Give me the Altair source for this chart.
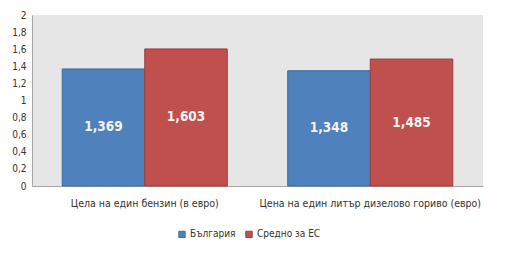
import altair as alt
import pandas as pd

categories = ["Цела на един бензин (в евро)", "Цена на един литър дизелово гориво (евро)"]
series = ["България", "Средно за ЕС"]
bulgaria = [1.369, 1.348]
eu_avg = [1.603, 1.485]
labels_bg = ["1,369", "1,348"]
labels_eu = ["1,603", "1,485"]
yticks = [0, 0.2, 0.4, 0.6, 0.8, 1, 1.2, 1.4, 1.6, 1.8, 2]

rows = []
for i, c in enumerate(categories):
    rows.append({"cat": c, "series": series[0], "value": bulgaria[i], "label": labels_bg[i]})
    rows.append({"cat": c, "series": series[1], "value": eu_avg[i], "label": labels_eu[i]})
df = pd.DataFrame(rows)

FONT = "DejaVu Sans Condensed, DejaVu Sans"

xaxis = alt.Axis(labelAngle=0, ticks=False, labelPadding=12, labelFontSize=10.5,
                 labelFont=FONT, labelColor="#333333", domainColor="#a6a6a6",
                 labelLimit=400)
xscale = alt.Scale(paddingInner=0.268, paddingOuter=0.134)
yaxis = alt.Axis(values=yticks,
                 labelExpr="replace(format(datum.value, '~g'), '.', ',')",
                 labelOverlap=False, labelSeparation=0,
                 grid=False, ticks=False, labelPadding=6, labelFontSize=10,
                 labelFont=FONT, labelColor="#333333", domainColor="#a6a6a6")
yscale = alt.Scale(domain=[0, 2], nice=False)
xoff = alt.XOffset("series:N", sort=series, scale=alt.Scale(paddingInner=0, paddingOuter=0))

bars = alt.Chart(df).mark_bar(strokeWidth=1).encode(
    x=alt.X("cat:N", sort=categories, title=None, scale=xscale, axis=xaxis),
    xOffset=xoff,
    y=alt.Y("value:Q", title=None, scale=yscale, axis=yaxis),
    color=alt.Color("series:N", sort=series,
                    scale=alt.Scale(domain=series, range=["#4F81BD", "#C0504D"]),
                    legend=alt.Legend(title=None, orient="none", direction="horizontal",
                                      legendX=145, legendY=214, symbolType="square",
                                      symbolSize=40, symbolStrokeWidth=1,
                                      labelFontSize=10, labelFont=FONT, labelColor="#333333",
                                      labelOffset=3, columnPadding=7)),
    stroke=alt.Stroke("series:N", sort=series,
                      scale=alt.Scale(domain=series, range=["#3D6C9F", "#9E3C3A"]),
                      legend=None),
)

text = alt.Chart(df).transform_calculate(mid="datum.value/2").mark_text(
    color="#f4f4f4", fontWeight="bold", fontSize=13.5, font=FONT, baseline="middle"
).encode(
    x=alt.X("cat:N", sort=categories, title=None, scale=xscale, axis=xaxis),
    xOffset=xoff,
    y=alt.Y("mid:Q", title=None, scale=yscale, axis=yaxis),
    text="label:N",
)

chart = alt.layer(bars, text).properties(
    width=451, height=171,
    autosize=alt.AutoSizeParams(type="none"),
    padding={"left": 32, "top": 15, "right": 28, "bottom": 68},
    background="white",
).configure_view(fill="#e6e6e6", stroke=None)

chart.save("out.html", embed_options={"renderer": "svg", "actions": False})
